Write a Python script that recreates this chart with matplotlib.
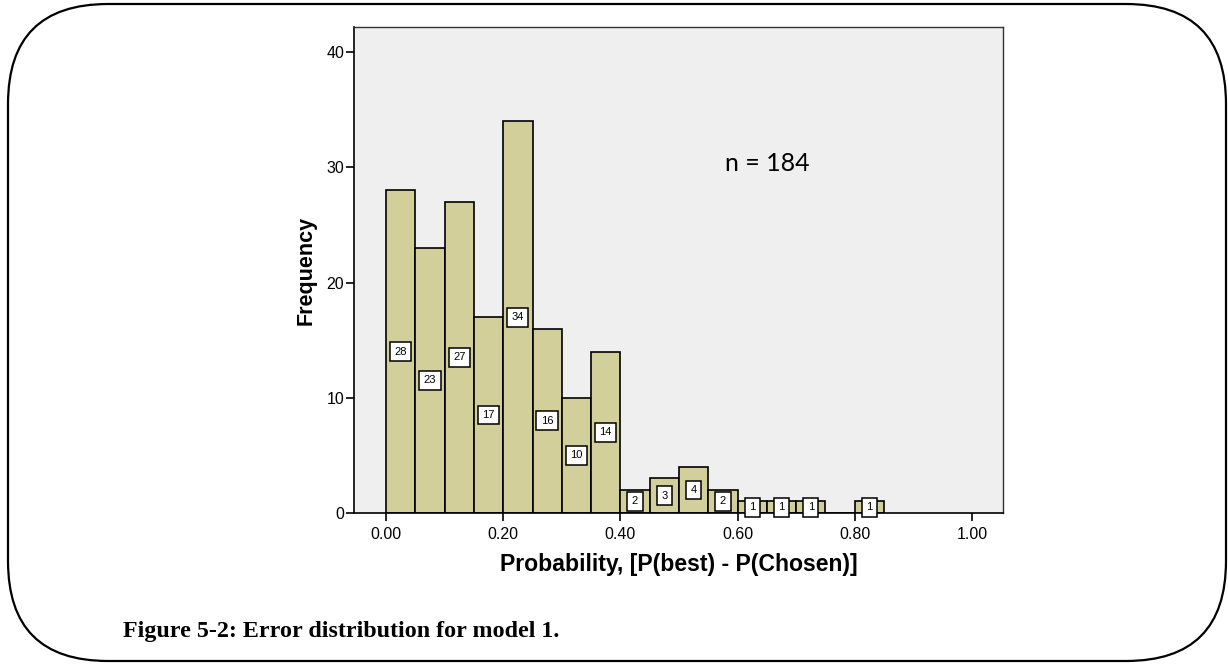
import numpy as np
import matplotlib.pyplot as plt
from matplotlib.patches import FancyBboxPatch

# histogram of prediction error, bins of width 0.05
bin_edges = [0.00, 0.05, 0.10, 0.15, 0.20, 0.25, 0.30, 0.35, 0.40,
             0.45, 0.50, 0.55, 0.60, 0.65, 0.70, 0.75, 0.80, 0.85]
counts = [28, 23, 27, 17, 34, 16, 10, 14, 2, 3, 4, 2, 1, 1, 1, 0, 1]
x_ticks = [0.0, 0.2, 0.4, 0.6, 0.8, 1.0]
x_tick_labels = ['0.00', '0.20', '0.40', '0.60', '0.80', '1.00']
y_ticks = [0, 10, 20, 30, 40]
n_total = 184

fig = plt.figure(figsize=(12.28, 6.64), dpi=100)
fig.patch.set_facecolor('white')

# rounded frame around the whole figure
frame = FancyBboxPatch((0.08, 0.03), 12.18, 6.57,
                       boxstyle='round,pad=0,rounding_size=1.0',
                       transform=fig.dpi_scale_trans, facecolor='none',
                       edgecolor='black', linewidth=1.6)
fig.patches.append(frame)

ax = fig.add_axes([0.2883, 0.2274, 0.5285, 0.7319])
ax.set_facecolor('#efefef')

lefts = np.array(bin_edges[:-1])
widths = np.diff(bin_edges)
ax.bar(lefts, counts, width=widths, align='edge', color='#d3cf9b',
       edgecolor='black', linewidth=1.2, zorder=2)

# value boxes in the middle of each bar
for x0, w, c in zip(lefts, widths, counts):
    if c == 0:
        continue
    ax.text(x0 + w / 2, c / 2, str(c), ha='center', va='center',
            fontsize=8, family='Liberation Sans', zorder=3,
            bbox=dict(boxstyle='square,pad=0.4', facecolor='white',
                      edgecolor='black', linewidth=1.1))

ax.set_xlim(-0.0546, 1.053)
ax.set_ylim(0, 42.17)
ax.set_xticks(x_ticks)
ax.set_xticklabels(x_tick_labels)
ax.set_yticks(y_ticks)
ax.tick_params(direction='out', length=6, width=1.2, labelsize=11.5,
               colors='black')
for lab in ax.get_xticklabels() + ax.get_yticklabels():
    lab.set_family('Liberation Sans')
ax.tick_params(axis='x', pad=4)
ax.tick_params(axis='y', pad=1)

for side in ['left', 'bottom']:
    ax.spines[side].set_linewidth(1.2)
for side in ['top', 'right']:
    ax.spines[side].set_color('#333333')
    ax.spines[side].set_linewidth(1.0)

ax.set_xlabel('Probability, [P(best) - P(Chosen)]', fontsize=16.6,
              fontweight='bold', family='Liberation Sans', labelpad=8)
ax.set_ylabel('Frequency', fontsize=15.5, fontweight='bold',
              family='Liberation Sans', labelpad=7)

ax.text(0.5716, 0.72, 'n = %d' % n_total, transform=ax.transAxes,
        fontsize=18, family='Lato', ha='left', va='center')

fig.text(123 / 1228, 1 - 631 / 664, 'Figure 5-2: Error distribution for model 1.',
         fontsize=17.3, fontweight='bold', family='Liberation Serif',
         ha='left', va='center')

fig.savefig('out.png', dpi=100)
